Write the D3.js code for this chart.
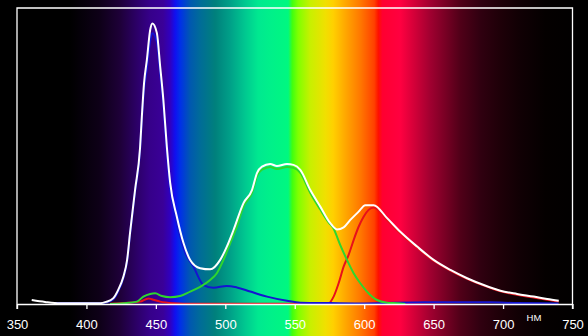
<!DOCTYPE html>
<html><head><meta charset="utf-8">
<script src="https://cdn.jsdelivr.net/npm/d3@7"></script>
<style>html,body{margin:0;padding:0;background:#000;overflow:hidden}svg{display:block}</style>
</head><body><svg id="c" width="588" height="336"></svg>
<script>
// ---- data (wavelength nm, relative intensity % of axis height) ----
const tickLabels = [350, 400, 450, 500, 550, 600, 650, 700, 750];
const unitLabel = "HM";

const whiteNm  = [360.6,370.2,381,409.8,414.1,419.4,422.8,426.6,429.3,431.4,435,438.6,439.9,441.5,443.5,445.9,447.5,450.7,453.1,455.4,457.9,460.3,465.1,469.9,474.7,481.9,489.1,496.3,501.1,505.9,513.1,519.2,522.8,526.4,532.3,537.2,544.4,549.1,554,561.2,568.4,575.6,580.4,585.2,590,596,600.8,606.8,616.5,626,638.1,650,662.1,674.1,686.1,698.1,710.1,722.1,731.8,740.1];
const whiteVal = [1.35,0.7,0.25,0.25,0.7,2.0,4.7,9.2,14.9,24.0,38.5,52.7,63.3,74.7,82.4,92.6,94.8,91.6,80.2,68.9,53.1,40.9,29.5,20.6,14.9,12.1,11.7,14.9,19.4,25.0,34.1,38.5,44.2,46.4,47.3,46.6,47.3,47.0,45.3,38.5,32.9,27.3,25.2,25.9,28.4,31.2,33.4,33.4,29.0,24.4,19.4,14.9,11.5,8.7,6.4,4.5,3.4,2.5,1.7,1.1];

const greenNm  = [417,426.6,436.3,441,445.9,449.5,454.3,460.3,467.5,474.7,481.9,489.1,493.9,498.7,503.5,508.3,513.1,519.2,522.8,526.4,532.3,537.2,544.4,549.1,554,561.2,568.4,574.5,577.7,582.8,587.6,592.4,597.2,602,609.2,616.5,623.7,629.6];
const greenVal = [0,0.25,0.8,2.5,3.4,3.6,2.7,2.3,2.7,4.2,5.8,8.1,10.4,14.9,20.5,26.1,32.9,37.5,43.2,45.4,46.3,45.6,46.3,46.0,44.3,37.5,31.9,27.5,25.7,19.9,14.9,10.4,7.0,4.2,1.35,0.45,0.25,0];

const blueNm   = [377.4,409.8,414.1,419.4,422.8,426.6,429.3,431.4,435,438.6,439.9,441.5,443.5,445.9,447.5,450.7,453.1,455.4,457.9,460.3,465.1,467.5,471,477.1,484.3,491.5,501.1,508.3,517.9,530,544.4,554,575.6,600,644,660,691,710,740];
const blueVal  = [0.3,0.3,0.5,1.6,4.2,8.8,14.5,23.5,37.8,51.8,62.2,72.5,79.5,89.0,91.5,88.5,78.0,67.0,51.5,39.0,27.0,22.7,17.5,12.6,6.4,5.5,6.1,5.6,4.2,2.5,1.1,0.45,0.3,0.2,0.6,0.6,0.6,0.3,0.2];

const redNm    = [417,424.2,438.6,444.6,447.1,453.1,462.6,469.9,568.4,574.4,578,581.6,585.2,588.8,592.4,596,599.6,603.2,606.8,616.5,626,638.1,650,662.1,674.1,686.1,698.1,710.1,722.1,731.8,740.1];
const redVal   = [0.1,0.25,0.8,1.9,1.6,0.8,0.25,0.1,0.1,0.25,2.5,7.0,12.6,16.6,21.6,26.1,29.5,31.8,32.6,28.3,23.8,19.0,14.6,11.3,8.5,6.2,4.3,3.1,2.2,1.4,0.8];

// spectrum background (wavelength -> colour)
const spectrumNm    = [337,388,409.8,424.2,436.5,445.9,455.2,460.3,463.9,467.5,474.7,481.9,492.7,503.5,514.3,523.7,532.3,545.3,548.2,552.5,561.2,572,577.7,586.4,597.2,607.3,610.2,613.1,626,636.8,647.7,658.5,669.3,683.7,698.1,712.5,730.5,762];
const spectrumColor = ["#000000","#000000","#0e0018","#1e0038","#2c0068","#36008a","#3a0098","#3000c0","#1010f0","#0030e8","#0058b0","#006c98","#00807c","#00a088","#00c890","#00e890","#00f08a","#00f880","#40ff10","#80ff00","#c8f000","#f0e000","#ffd000","#ffa800","#ff7800","#ff4000","#ff1000","#ff0030","#ff0040","#d00038","#a00030","#780024","#500018","#300010","#1e0008","#100004","#040000","#000000"];

// ---- drawing ----
const W = 588, H = 336;
const pLeft = 17, pRight = 572.5, pTop = 8, pBottom = 304;
const svg = d3.select("#c");
const x = d3.scaleLinear().domain([350, 750]).range([pLeft, pRight]);
const y = d3.scaleLinear().domain([0, 100]).range([pBottom, pTop]);

const defs = svg.append("defs");
const grad = defs.append("linearGradient").attr("id", "spec")
  .attr("gradientUnits", "userSpaceOnUse")
  .attr("x1", 0).attr("x2", W).attr("y1", 0).attr("y2", 0);
spectrumNm.forEach((nm, i) => {
  grad.append("stop").attr("offset", Math.max(0, Math.min(1, x(nm) / W)))
    .attr("stop-color", spectrumColor[i]);
});
svg.append("rect").attr("width", W).attr("height", H).attr("fill", "url(#spec)");

const line = d3.line().x(d => x(d[0])).y(d => y(d[1])).curve(d3.curveMonotoneX);
const series = [
  {nm: redNm, val: redVal, color: "#e8101a"},
  {nm: blueNm, val: blueVal, color: "#1414d2"},
  {nm: greenNm, val: greenVal, color: "#2ed62e"},
  {nm: whiteNm, val: whiteVal, color: "#ffffff"}
];
series.forEach(s => {
  svg.append("path").datum(d3.zip(s.nm, s.val))
    .attr("d", line).attr("fill", "none")
    .attr("stroke", s.color).attr("stroke-width", 2)
    .attr("stroke-linejoin", "round");
});

// frame
const frame = svg.append("g").attr("stroke", "#fff").attr("stroke-width", 1.3).attr("fill", "none");
frame.append("path").attr("d", `M${pLeft},${pBottom + 5}V${pTop}H${pRight}V${pBottom + 5}`);

// x axis
const axis = d3.axisBottom(x).tickValues(tickLabels).tickSize(5).tickSizeOuter(0).tickPadding(11);
const gx = svg.append("g").attr("transform", `translate(0,${pBottom})`).call(axis);
gx.select(".domain").attr("stroke", "#fff").attr("stroke-width", 1.3);
gx.selectAll(".tick line").attr("stroke", "#fff").attr("stroke-width", 1.3);
gx.selectAll(".tick text").attr("fill", "#fff")
  .style("font-family", "Liberation Sans, Arial, sans-serif").style("font-size", "13px");

svg.append("text").attr("x", 534).attr("y", 321).attr("text-anchor", "middle")
  .attr("fill", "#fff").style("font-family", "Liberation Sans, Arial, sans-serif")
  .style("font-size", "9.5px").text(unitLabel);
</script></body></html>
